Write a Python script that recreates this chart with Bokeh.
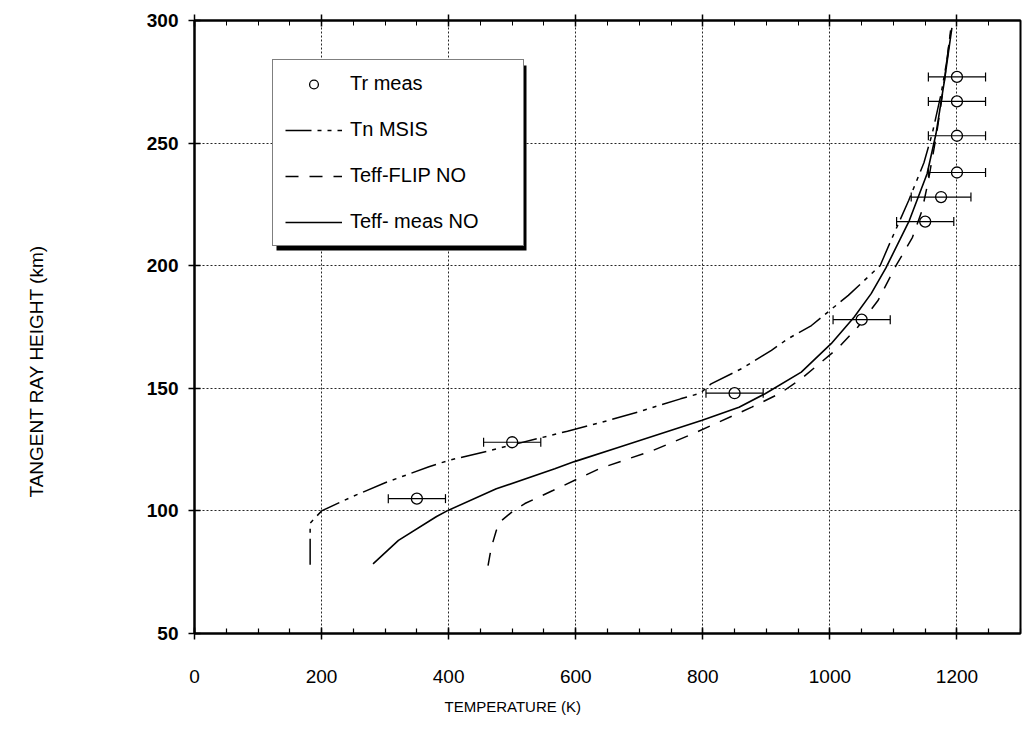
from bokeh.plotting import figure
from bokeh.models import (FixedTicker, LinearAxis, Range1d, Legend, LegendItem, Whisker,
                          ColumnDataSource, BoxAnnotation, TeeHead, Title)
from bokeh.embed import file_html
from bokeh.resources import INLINE

# ---- data ----
meas_T = [350, 500, 850, 1050, 1150, 1175, 1200, 1200, 1200, 1200]
meas_h = [105, 128, 148, 178, 218, 228, 238, 253, 267, 277]
meas_err = [45, 45, 45, 45, 45, 47, 45, 45, 45, 45]

msis_T = [182, 182, 200, 250, 300, 369, 400, 460, 545, 587, 639, 700, 765, 796, 813, 861,
          908, 934, 971, 1029, 1079, 1095, 1124, 1148, 1161, 1175, 1185, 1190]
msis_h = [78, 95, 100, 106, 111.5, 118, 120.6, 124.3, 129.8, 132.5, 136, 140.5, 145.7, 148,
          151.8, 158, 165.5, 170.2, 175.6, 187.9, 200, 209.6, 226.6, 242, 253.8, 270, 285, 296]

flip_T = [462, 467, 475, 483, 501, 520, 564, 637, 721, 784, 877, 922, 955, 1012, 1044, 1076,
          1104, 1130, 1145, 1155, 1168, 1180, 1190]
flip_h = [77.7, 85, 92, 96, 99.9, 103, 108.3, 117.2, 124.6, 131.4, 142.3, 148, 153.9, 166.2,
          175, 185.9, 200, 211.6, 222.5, 234.7, 253.8, 275, 296]

meas_no_T = [281, 321, 381, 399, 475, 567, 598, 668, 799, 857, 898, 955, 1002, 1038, 1065,
             1088, 1125, 1153, 1167, 1180, 1192]
meas_no_h = [78.4, 88, 97.7, 100.2, 109, 117.2, 120.1, 126, 137, 142.3, 147.8, 156.6, 168.2,
             179, 188.6, 199, 218.4, 237.5, 253.8, 275, 297]

x_ticks = [0, 200, 400, 600, 800, 1000, 1200]
x_minor = list(range(0, 1301, 50))
y_ticks = [50, 100, 150, 200, 250, 300]

labels = ["Tr meas", "Tn MSIS", "Teff-FLIP NO", "Teff- meas NO"]
x_title = "TEMPERATURE (K)"
y_title = "TANGENT RAY HEIGHT (km)"

FONT = "Liberation Sans"

p = figure(width=1022, height=738, x_range=Range1d(0, 1300), y_range=Range1d(50, 300),
           output_backend="svg", toolbar_location=None,
           min_border_left=194, min_border_right=2, min_border_top=20, min_border_bottom=105)
p.background_fill_color = "white"
p.border_fill_color = "white"
p.outline_line_color = "black"
p.outline_line_width = 2

xt = FixedTicker(ticks=x_ticks, minor_ticks=x_minor)
yt = FixedTicker(ticks=y_ticks, minor_ticks=[])
p.xaxis.ticker = xt
p.yaxis.ticker = yt
p.xgrid.ticker = xt
p.ygrid.ticker = yt
for g in (p.xgrid, p.ygrid):
    g.grid_line_color = "black"
    g.grid_line_dash = "2 2"
    g.grid_line_width = 1
    g.grid_line_alpha = 0.85

for ax in (p.xaxis, p.yaxis):
    ax.axis_line_width = 2
    ax.axis_line_color = "black"
    ax.major_tick_line_color = "black"
    ax.major_tick_line_width = 1.5
    ax.minor_tick_line_color = "black"
    ax.minor_tick_line_width = 1.2
    ax.major_tick_in = 6
    ax.major_tick_out = 6
    ax.major_label_text_font = FONT
    ax.major_label_text_color = "black"

p.xaxis.minor_tick_in = 5
p.xaxis.minor_tick_out = 0
p.xaxis.major_label_standoff = 30
p.xaxis.major_label_text_font_size = "19px"

p.yaxis.minor_tick_in = 0
p.yaxis.minor_tick_out = 0
p.yaxis.major_label_standoff = 10
p.yaxis.major_label_text_font_size = "19px"
p.yaxis.major_label_text_font_style = "bold"

top = LinearAxis(ticker=xt, major_label_text_font_size="10px", major_label_text_color=None,
                 major_label_standoff=0, axis_line_width=2, major_tick_in=6, major_tick_out=6,
                 minor_tick_in=5, minor_tick_out=0, major_tick_line_width=1.5)
p.add_layout(top, "above")

# invisible spacer between the y tick labels and the y title
spacer = LinearAxis(ticker=FixedTicker(ticks=[175], minor_ticks=[]), axis_line_color=None,
                    major_tick_line_color=None, minor_tick_line_color=None,
                    major_label_text_color=None, major_label_text_font_size="1px",
                    major_label_standoff=0,
                    major_tick_in=0, major_tick_out=92, minor_tick_in=0, minor_tick_out=0)
p.add_layout(spacer, "left")
p.add_layout(Title(text=y_title, align="left", offset=136, text_font=FONT,
                   text_font_size="19px", text_font_style="normal", text_color="black",
                   standoff=10), "left")

p.add_layout(Title(text=x_title, align="left", offset=250, text_font=FONT,
                   text_font_size="15px", text_font_style="normal", text_color="black",
                   standoff=20), "below")

# ---- data lines ----
r_msis = p.line(msis_T, msis_h, line_color="black", line_width=1.5, line_dash="26 6 4 6 4 6")
r_flip = p.line(flip_T, flip_h, line_color="black", line_width=1.5, line_dash="13 11")
r_meas = p.line(meas_no_T, meas_no_h, line_color="black", line_width=1.6)

src = ColumnDataSource(data=dict(
    h=meas_h,
    lower=[t - e for t, e in zip(meas_T, meas_err)],
    upper=[t + e for t, e in zip(meas_T, meas_err)],
))
wh = Whisker(source=src, base="h", lower="lower", upper="upper", dimension="width",
             line_color="black", line_width=1.2,
             lower_head=TeeHead(size=9, line_width=1.2, line_color="black"),
             upper_head=TeeHead(size=9, line_width=1.2, line_color="black"))
wh.level = "glyph"
p.add_layout(wh)

r_pts = p.scatter(meas_T, meas_h, marker="circle", size=11, fill_color="white",
                  line_color="black", line_width=1.3)

# ---- legend with drop shadow ----
leg_x, leg_y, leg_w, leg_h = 78, 387, 250, 185
shadow = BoxAnnotation(left=leg_x + 4, right=leg_x + leg_w + 4, bottom=leg_y - 4,
                       top=leg_y + leg_h - 4, left_units="screen", right_units="screen",
                       bottom_units="screen", top_units="screen",
                       fill_color="black", fill_alpha=1, line_color=None)
p.add_layout(shadow)

legend = Legend(items=[LegendItem(label=labels[0], renderers=[r_pts]),
                       LegendItem(label=labels[1], renderers=[r_msis]),
                       LegendItem(label=labels[2], renderers=[r_flip]),
                       LegendItem(label=labels[3], renderers=[r_meas])],
                location=(leg_x, leg_y), orientation="vertical",
                border_line_color="black", border_line_width=1.5,
                background_fill_color="white", background_fill_alpha=1,
                padding=12, spacing=23, margin=0,
                glyph_width=57, glyph_height=22, label_height=22, label_width=161,
                label_standoff=8, label_text_font=FONT, label_text_font_size="20px",
                label_text_color="black")
p.add_layout(legend)

open("out.html", "w").write(file_html(p, INLINE))
